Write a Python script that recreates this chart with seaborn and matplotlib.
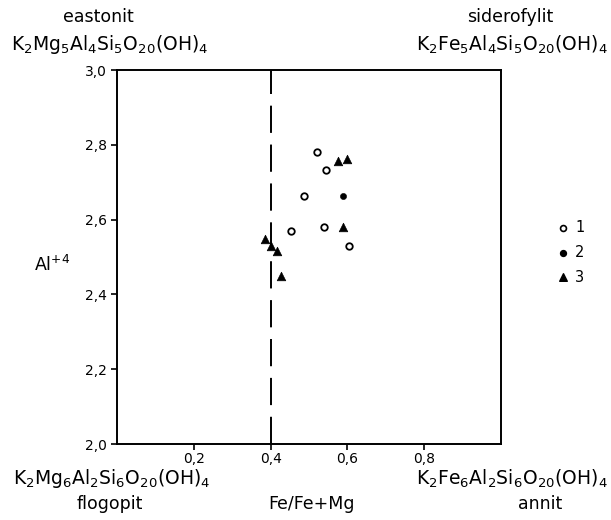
import matplotlib
matplotlib.use("Agg")
import matplotlib.pyplot as plt
import pandas as pd
import seaborn as sns

# group 1: open circles, group 2: filled dots, group 3: triangles
x1 = [0.52, 0.545, 0.487, 0.454, 0.54, 0.604]
y1 = [2.782, 2.733, 2.662, 2.570, 2.579, 2.529]
x2 = [0.588]
y2 = [2.662]
x3 = [0.576, 0.600, 0.588, 0.385, 0.401, 0.417, 0.428]
y3 = [2.757, 2.761, 2.581, 2.549, 2.530, 2.517, 2.450]

boundary_x = 0.4
xticks = [0.2, 0.4, 0.6, 0.8]
yticks = [2.0, 2.2, 2.4, 2.6, 2.8, 3.0]

df = pd.concat([
    pd.DataFrame({'x': x1, 'y': y1, 'group': '1'}),
    pd.DataFrame({'x': x2, 'y': y2, 'group': '2'}),
    pd.DataFrame({'x': x3, 'y': y3, 'group': '3'}),
], ignore_index=True)

sns.set_style('ticks')
plt.rcParams['font.family'] = ['DejaVu Sans']
plt.rcParams['mathtext.fontset'] = 'dejavusans'
plt.rcParams['text.color'] = 'black'

fig = plt.figure(figsize=(6.11, 5.2), dpi=100)
ax = fig.add_axes([117 / 611, 1 - 444 / 520, 384 / 611, 374 / 520])

sns.scatterplot(data=df[df.group == '1'], x='x', y='y', marker='o', s=22,
                facecolor='white', edgecolor='black', linewidth=1.3, ax=ax, zorder=3)
sns.scatterplot(data=df[df.group == '2'], x='x', y='y', marker='o', s=20,
                color='black', edgecolor='black', ax=ax, zorder=3)
sns.scatterplot(data=df[df.group == '3'], x='x', y='y', marker='^', s=38,
                color='black', edgecolor='black', ax=ax, zorder=3)

ax.plot([boundary_x, boundary_x], [2.0, 3.0], color='black', lw=1.4,
        dashes=(14, 6), zorder=2)

ax.set_xlim(0, 1)
ax.set_ylim(2.0, 3.0)
ax.set_xticks(xticks)
ax.set_xticklabels([f'{t:.1f}'.replace('.', ',') for t in xticks], fontsize=10)
ax.set_yticks(yticks)
ax.set_yticklabels([f'{t:.1f}'.replace('.', ',') for t in yticks], fontsize=10)
ax.tick_params(direction='out', length=4, width=1.2, colors='black', pad=3)
ax.tick_params(axis='x', pad=2)
ax.set_xlabel('')
ax.set_ylabel('')
for sp in ax.spines.values():
    sp.set_linewidth(1.4)
    sp.set_color('black')

fs = 12.5
ffs = 13.5
fig.text(98 / 611, 1 - 17 / 520, 'eastonit', ha='center', va='center', fontsize=fs)
fig.text(110 / 611, 1 - 45 / 520, r'K$_2$Mg$_5$Al$_4$Si$_5$O$_{20}$(OH)$_4$',
         ha='center', va='center', fontsize=ffs)
fig.text(510 / 611, 1 - 17 / 520, 'siderofylit', ha='center', va='center', fontsize=fs)
fig.text(512 / 611, 1 - 45 / 520, r'K$_2$Fe$_5$Al$_4$Si$_5$O$_{20}$(OH)$_4$',
         ha='center', va='center', fontsize=ffs)
fig.text(112 / 611, 1 - 479 / 520, r'K$_2$Mg$_6$Al$_2$Si$_6$O$_{20}$(OH)$_4$',
         ha='center', va='center', fontsize=ffs)
fig.text(110 / 611, 1 - 504 / 520, 'flogopit', ha='center', va='center', fontsize=fs)
fig.text(312 / 611, 1 - 504 / 520, 'Fe/Fe+Mg', ha='center', va='center', fontsize=fs)
fig.text(512 / 611, 1 - 479 / 520, r'K$_2$Fe$_6$Al$_2$Si$_6$O$_{20}$(OH)$_4$',
         ha='center', va='center', fontsize=ffs)
fig.text(540 / 611, 1 - 504 / 520, 'annit', ha='center', va='center', fontsize=fs)
fig.text(52 / 611, 1 - 265 / 520, r'Al$^{+4}$', ha='center', va='center', fontsize=fs)

# legend drawn in its own small axes to the right of the box
leg_ax = fig.add_axes([550 / 611, 1 - 295 / 520, 50 / 611, 80 / 520])
leg_ax.set_xlim(0, 1)
leg_ax.set_ylim(0, 1)
leg_ax.axis('off')
leg = pd.DataFrame({'x': [0.25, 0.25, 0.25], 'y': [0.84, 0.53, 0.22],
                    'label': ['1', '2', '3']})
leg_ax.scatter(leg.x[0], leg.y[0], marker='o', s=18, facecolor='white',
               edgecolor='black', linewidth=1.2)
leg_ax.scatter(leg.x[1], leg.y[1], marker='o', s=18, color='black')
leg_ax.scatter(leg.x[2], leg.y[2], marker='^', s=30, color='black')
for _, r in leg.iterrows():
    leg_ax.text(0.5, r.y, r.label, ha='left', va='center', fontsize=10.5)

fig.savefig('out.png', dpi=100)
